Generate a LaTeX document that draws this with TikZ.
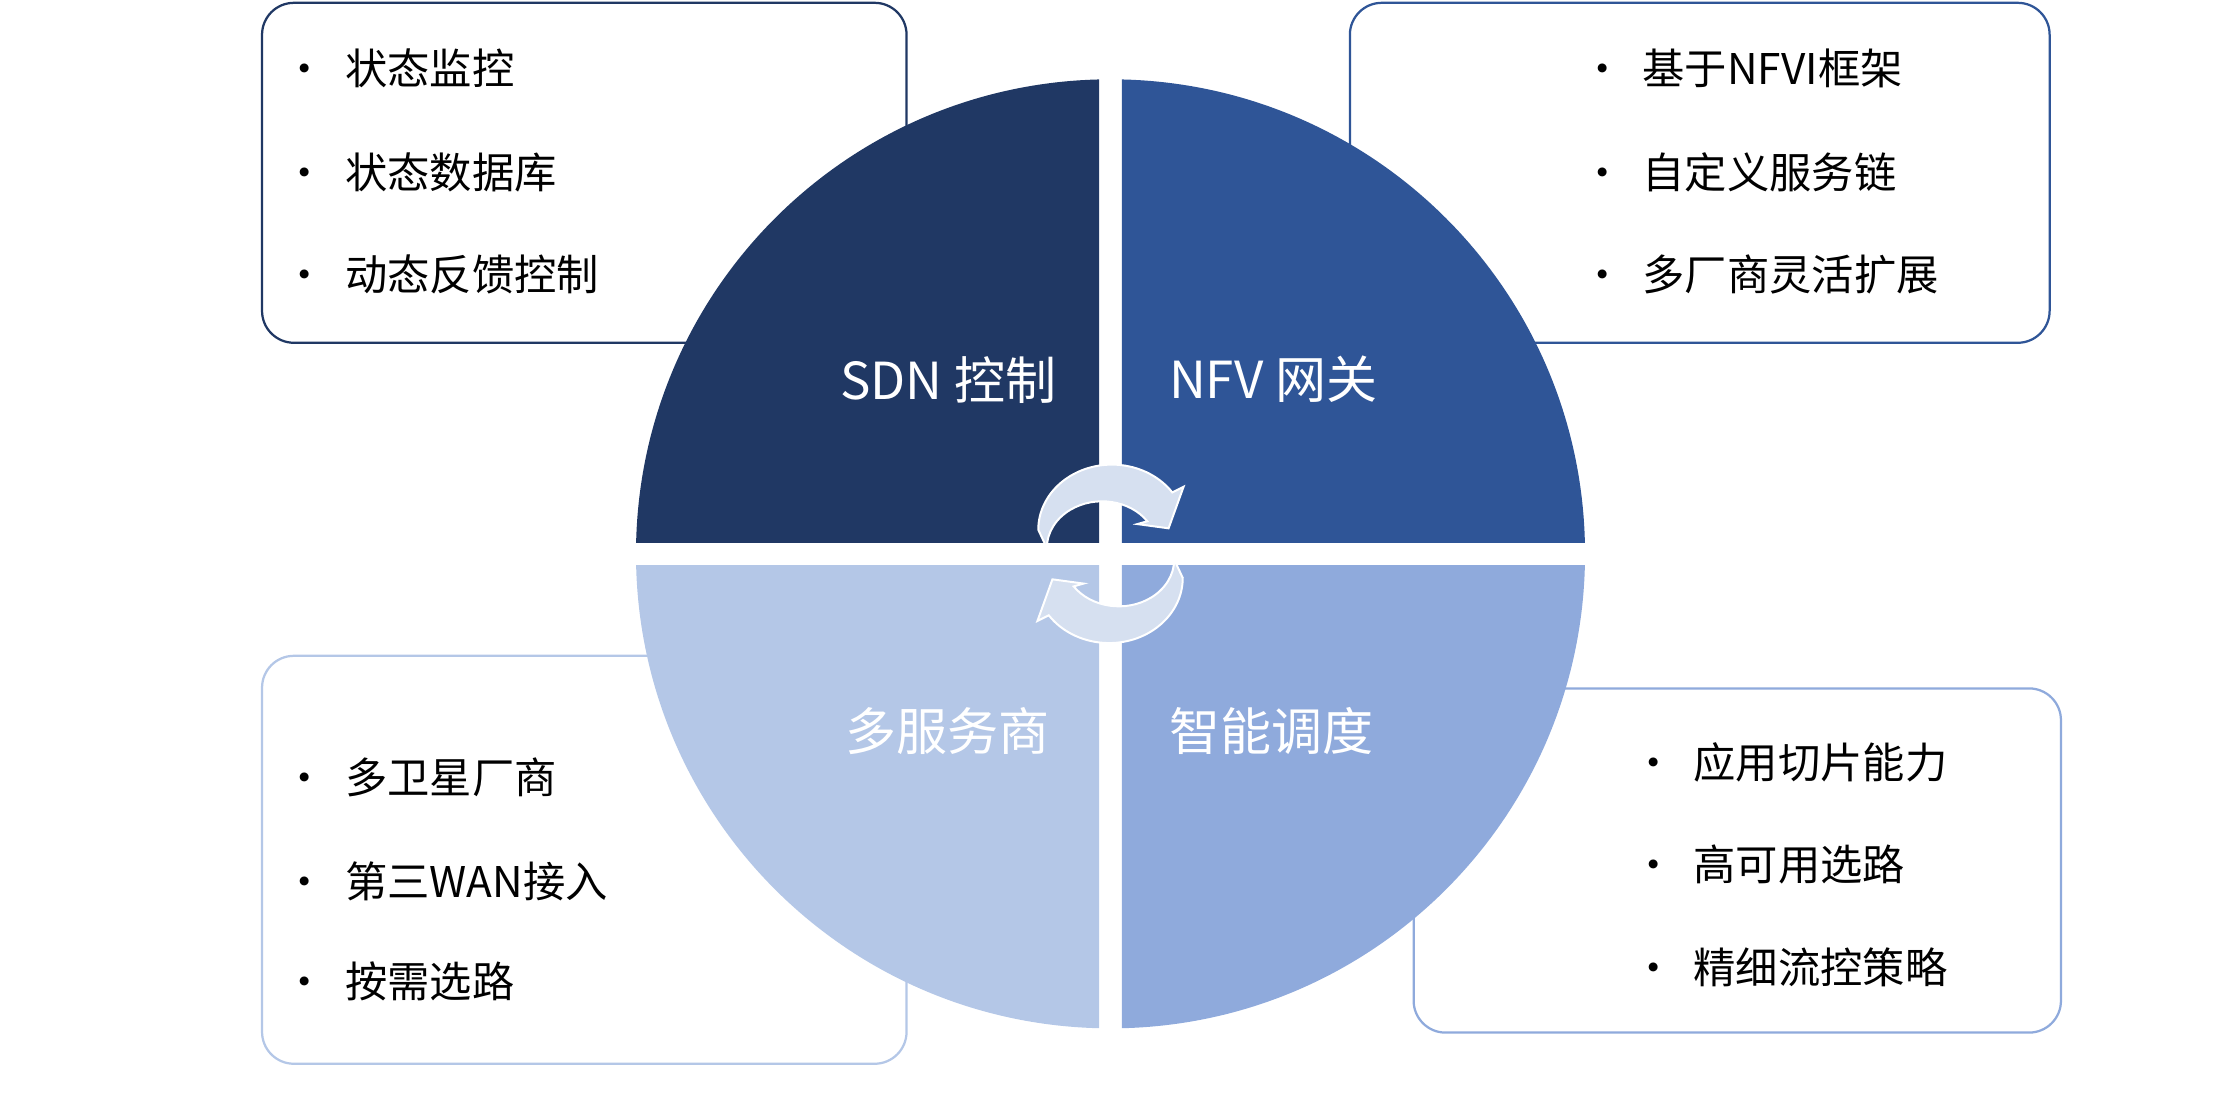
\documentclass[tikz,border=0pt]{standalone}
\usepackage{fontspec}
\setmainfont{Noto Sans CJK SC}
\begin{document}
\begin{tikzpicture}[x=0.02cm,y=-0.02cm,
  box/.style={draw,fill=white,rounded corners=0.45cm,line width=0.9pt},
  item/.style={anchor=west,font=\fontsize{17}{20}\selectfont,inner sep=0},
  qlab/.style={text=white,font=\fontsize{20.5}{24}\selectfont,inner sep=0},
  arr/.style={fill=arrfill,draw=white,line width=0.8pt}]
\definecolor{q1}{HTML}{203864}\definecolor{q2}{HTML}{2F5597}
\definecolor{q3}{HTML}{B4C7E7}\definecolor{q4}{HTML}{8FAADC}
\definecolor{arrfill}{HTML}{D6E0F0}
\useasboundingbox (0,0) rectangle (1568,776);
% boxes
\node[box,draw=q1,minimum width=455*0.02cm,minimum height=240*0.02cm] (b1) at (412.5,122) {};
\node[box,draw=q2,minimum width=494*0.02cm,minimum height=240*0.02cm] (b2) at (1200,122) {};
\node[box,draw=q3,minimum width=455*0.02cm,minimum height=288*0.02cm] (b3) at (412.5,607) {};
\node[box,draw=q4,minimum width=457*0.02cm,minimum height=243*0.02cm] (b4) at (1226.5,607.5) {};
% quadrants
\coordinate (c) at (784,391);
\begin{scope}\clip (0,0) rectangle (776,383); \fill[q1] (c) circle (335);\end{scope}
\begin{scope}\clip (792,0) rectangle (1568,383); \fill[q2] (c) circle (335);\end{scope}
\begin{scope}\clip (0,399) rectangle (776,776); \fill[q3] (c) circle (335);\end{scope}
\begin{scope}\clip (792,399) rectangle (1568,776); \fill[q4] (c) circle (335);\end{scope}
% labels
\node[qlab,anchor=east] (l1) at (746,268) {SDN 控制};
\node[qlab,anchor=west] (l2) at (825,268) {NFV 网关};
\node[qlab,anchor=east] (l3) at (741,516) {多服务商};
\node[qlab,anchor=west] (l4) at (825,516) {智能调度};
% items
\node[item] (t1) at (200,48) {•\hspace{0.45em}状态监控};
\node[item] (t2) at (200,122) {•\hspace{0.45em}状态数据库};
\node[item] (t3) at (200,194) {•\hspace{0.45em}动态反馈控制};
\node[item] (u1) at (1116,48) {•\hspace{0.45em}基于NFVI框架};
\node[item] (u2) at (1116,122) {•\hspace{0.45em}自定义服务链};
\node[item] (u3) at (1116,194) {•\hspace{0.45em}多厂商灵活扩展};
\node[item] (v1) at (200,549) {•\hspace{0.45em}多卫星厂商};
\node[item] (v2) at (200,622) {•\hspace{0.45em}第三WAN接入};
\node[item] (v3) at (200,693) {•\hspace{0.45em}按需选路};
\node[item] (w1) at (1152,538) {•\hspace{0.45em}应用切片能力};
\node[item] (w2) at (1152,610) {•\hspace{0.45em}高可用选路};
\node[item] (w3) at (1152,683) {•\hspace{0.45em}精细流控策略};
% circular arrows
\draw[arr] (733,374) arc[start angle=180,end angle=325,x radius=52,y radius=46]
  -- ++(8,-4) -- (825,373) -- ++(-22,-3) -- ++(7,-2)
  arc[start angle=325,end angle=180,x radius=39,y radius=33] -- cycle;
\draw[arr] (835,408) arc[start angle=0,end angle=145,x radius=52,y radius=46]
  -- ++(-8,4) -- (743,409) -- ++(22,3) -- ++(-7,2)
  arc[start angle=145,end angle=0,x radius=39,y radius=33] -- cycle;
\end{tikzpicture}
\end{document}
